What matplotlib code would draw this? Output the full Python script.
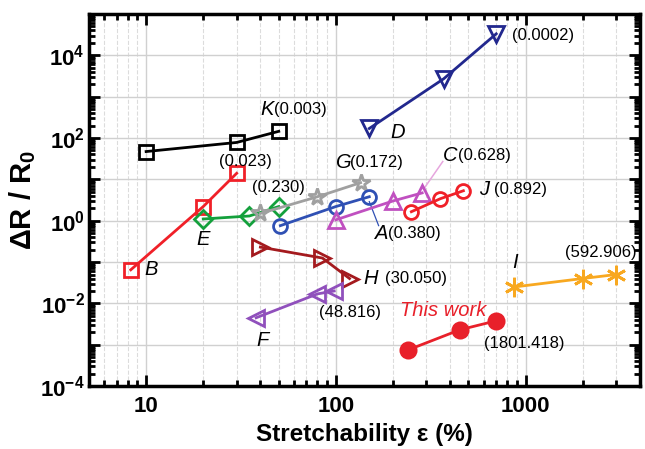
import numpy as np
import matplotlib
matplotlib.use('Agg')
from matplotlib import pyplot as plt
from matplotlib.ticker import LogLocator, FuncFormatter, NullFormatter

plt.rcParams['font.family'] = ['Liberation Sans', 'DejaVu Sans']
plt.rcParams['mathtext.fontset'] = 'custom'
plt.rcParams['mathtext.rm'] = 'Liberation Sans'
plt.rcParams['mathtext.it'] = 'Liberation Sans:italic'
plt.rcParams['mathtext.bf'] = 'Liberation Sans:bold'

# data (strain %, dR/R0)
k_x = [10, 30, 50]
k_y = [47, 78, 145]
b_x = [8.3, 20, 30]
b_y = [0.065, 2.2, 14]
e_x = [20, 35, 50]
e_y = [1.1, 1.3, 2.2]
g_x = [40, 80, 135]
g_y = [1.5, 3.8, 8.3]
a_x = [51, 100, 150]
a_y = [0.76, 2.2, 3.8]
c_x = [100, 200, 285]
c_y = [1.05, 3.0, 4.7]
j_x = [250, 355, 470]
j_y = [1.65, 3.4, 5.3]
d_x = [150, 370, 700]
d_y = [170, 2700, 33000]
h_x = [40, 85, 118]
h_y = [0.23, 0.125, 0.04]
f_x = [38, 80, 98]
f_y = [0.0045, 0.017, 0.02]
i_x = [870, 2000, 3000]
i_y = [0.025, 0.04, 0.05]
tw_x = [240, 450, 700]
tw_y = [7.5e-4, 2.3e-3, 3.8e-3]

fig = plt.figure(figsize=(6.45, 4.49), dpi=100)
ax = fig.add_axes([0.138, 0.14, 0.854, 0.829])
ax.set_xscale('log')
ax.set_yscale('log')
ax.set_xlim(5, 4000)
ax.set_ylim(1e-4, 1e5)

ms = 10
mew = 2.0
lw = 2.0

def series(x, y, color, marker, fill='none', size=ms):
    ax.plot(x, y, color=color, lw=lw, marker=marker, ms=size, mew=mew,
            mfc=fill, mec=color, zorder=3)

series(k_x, k_y, 'black', 's')
series(b_x, b_y, '#f02028', 's')
series(e_x, e_y, '#14a03c', 'D', size=9)
series(g_x, g_y, '#a0a0a0', '*', size=13)
series(a_x, a_y, '#2f50b4', 'o')
series(c_x, c_y, '#c050c0', '^', size=12)
series(j_x, j_y, '#f02028', 'o')
series(d_x, d_y, '#22288e', 'v', size=12)
series(h_x, h_y, '#a41a1e', '>', size=12)
series(f_x, f_y, '#9050bc', '<', size=12)
series(i_x, i_y, '#f8a820', (6, 2, 0), size=14)
series(tw_x, tw_y, '#e8202a', 'o', fill='#e8202a', size=11)

# leader lines to A and C labels
ax.plot([150, 168], [2.9, 0.76], color='#2f50b4', lw=0.9, zorder=2)
ax.plot([290, 366], [5.8, 27], color='#e6a6de', lw=1.1, zorder=2)

fs = 12
fl = 14.5

def lab(x, y, letter, value, dx, color='black'):
    ax.text(x, y, letter, fontsize=fl, style='italic', color=color,
            va='center', ha='left')
    if value:
        ax.annotate(value, xy=(x, y), xytext=(dx, 0), textcoords='offset points',
                    fontsize=fs, va='center', ha='left')

lab(40, 490, 'K', '(0.003)', 10)
lab(100, 25.5, 'G', '(0.172)', 10.5)
lab(161, 0.48, 'A', '(0.380)', 9.5)
lab(366, 37.7, 'C', '(0.628)', 11)
lab(566, 5.6, 'J', '(0.892)', 11)
lab(139, 0.039, 'H', '(30.050)', 15.5)
lab(193, 136, 'D', None, 0)
lab(38, 0.0013, 'F', None, 0)
lab(9.76, 0.065, 'B', None, 0)
ax.text(20, 0.35, 'E', fontsize=fl, style='italic', va='center', ha='center')
ax.text(875, 0.1, 'I', fontsize=fl, style='italic', va='center', ha='center')
ax.text(218, 0.0066, 'This work', fontsize=fl, style='italic',
        color='#e8202a', va='center')

ax.text(33.5, 27, '(0.023)', fontsize=fs, va='center', ha='center')
ax.text(50, 6.3, '(0.230)', fontsize=fs, va='center', ha='center')
ax.text(843, 30800, '(0.0002)', fontsize=fs, va='center')
ax.text(81, 0.0062, '(48.816)', fontsize=fs, va='center')
ax.text(2480, 0.168, '(592.906)', fontsize=fs, ha='center', va='center')
ax.text(603, 1.1e-3, '(1801.418)', fontsize=fs, va='center')

# ticks and grid
ax.xaxis.set_major_locator(LogLocator(base=10, numticks=10))
ax.xaxis.set_minor_locator(LogLocator(base=10, subs=np.arange(2, 10), numticks=20))
ax.xaxis.set_major_formatter(FuncFormatter(lambda v, p: '%d' % v))
ax.xaxis.set_minor_formatter(NullFormatter())
ax.yaxis.set_major_locator(LogLocator(base=10, numticks=20))
ax.yaxis.set_minor_locator(LogLocator(base=10, subs=np.arange(2, 10), numticks=30))


def yfmt(v, p):
    e = int(round(np.log10(v)))
    if e % 2 == 0 and e < 5:
        return '$\\mathbf{10^{%d}}$' % e
    return ''


ax.yaxis.set_major_formatter(FuncFormatter(yfmt))
ax.yaxis.set_minor_formatter(NullFormatter())

ax.tick_params(which='both', direction='in', top=True, right=True, width=2)
ax.tick_params(which='major', length=8, labelsize=16)
ax.tick_params(axis='x', which='major', pad=7)
ax.tick_params(axis='y', which='major', pad=3)
ax.tick_params(which='minor', length=4)
for lbl in ax.get_xticklabels():
    lbl.set_fontweight('bold')

ax.grid(True, which='major', color='#d0d0d0', lw=1.0, zorder=0)
ax.xaxis.grid(True, which='minor', color='#dcdcdc', lw=0.8, ls='--', zorder=0)
for s in ax.spines.values():
    s.set_linewidth(2.5)

ax.set_xlabel('Stretchability ε (%)', fontsize=17.5, fontweight='bold')
ax.set_ylabel('ΔR / R$_\\mathbf{0}$', fontsize=21, fontweight='bold')
ax.yaxis.set_label_coords(-0.092, 0.5)
ax.xaxis.set_label_coords(0.5, -0.1)

plt.savefig('out.png', dpi=100)
